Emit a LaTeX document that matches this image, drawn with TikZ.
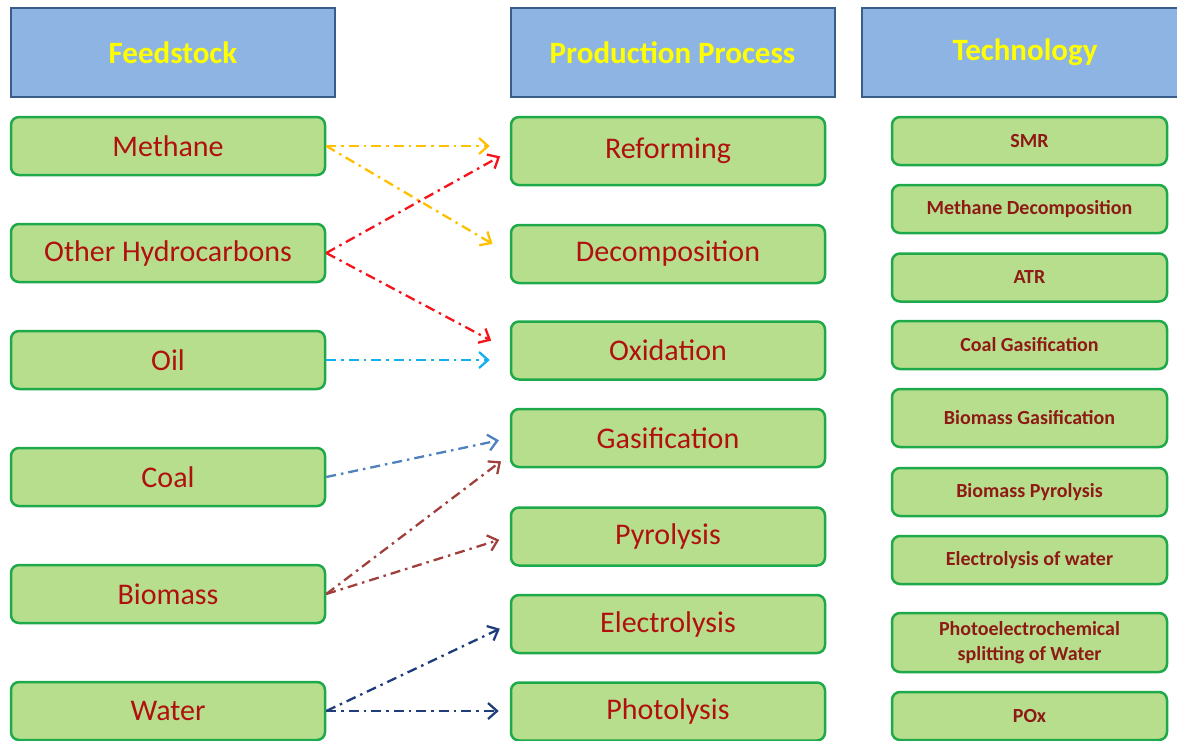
\documentclass[tikz,border=0pt]{standalone}
\usepackage{fontspec}
\setmainfont{Carlito}
\usetikzlibrary{arrows.meta}
\definecolor{headfill}{HTML}{8DB4E2}
\definecolor{headline}{HTML}{385D8A}
\definecolor{headtext}{HTML}{FFFF00}
\definecolor{boxfill}{HTML}{B7DE8D}
\definecolor{boxline}{HTML}{1EAA4B}
\definecolor{boxtext}{HTML}{B0110F}
\definecolor{techtext}{HTML}{8E1A16}
\definecolor{arrmeth}{HTML}{FFC000}
\definecolor{arrhc}{HTML}{F5141A}
\definecolor{arroil}{HTML}{12B0F0}
\definecolor{arrcoal}{HTML}{4F81BD}
\definecolor{arrbio}{HTML}{A0403D}
\definecolor{arrwater}{HTML}{1F3D7A}
\tikzset{
  header/.style={draw=headline, fill=headfill, line width=2pt,
    minimum width=324pt, minimum height=89pt, inner sep=0pt,
    text=headtext, font=\fontsize{31}{36}\selectfont\bfseries},
  feedbox/.style={draw=boxline, fill=boxfill, line width=2.5pt,
    rounded corners=8pt, minimum width=314pt, minimum height=58pt,
    inner sep=0pt, text=boxtext, font=\fontsize{30}{34}\selectfont},
  techbox/.style={draw=boxline, fill=boxfill, line width=2.5pt,
    rounded corners=8pt, minimum width=275pt, minimum height=48pt,
    inner sep=0pt, align=center, text=techtext,
    font=\fontsize{20}{25}\selectfont\bfseries},
  flow/.style={line width=2.3pt,
    dash pattern=on 10pt off 5pt on 2.5pt off 5pt,
    -{Straight Barb[length=9pt,width=16pt]}}
}
\begin{document}
\begin{tikzpicture}[x=1pt,y=-1pt]
  \useasboundingbox (0,0) rectangle (1177,740);
  % column headers
  \node[header] (hfeed) at (173,52.5) {Feedstock};
  \node[header] (hproc) at (672.5,52.5) {Production Process};
  \node[header,minimum width=326pt] (htech) at (1025,52.5) {Technology};
  % feedstock
  \node[feedbox] (meth) at (168,146) {Methane};
  \node[feedbox] (ohc) at (168,253) {Other Hydrocarbons};
  \node[feedbox] (oil) at (168,360) {Oil};
  \node[feedbox] (coal) at (168,477) {Coal};
  \node[feedbox] (biom) at (168,594) {Biomass};
  \node[feedbox] (water) at (168,711) {Water};
  % production process
  \node[feedbox,minimum height=68pt] (refo) at (668,151) {Reforming};
  \node[feedbox] (deco) at (668,254) {Decomposition};
  \node[feedbox] (oxid) at (668,350.5) {Oxidation};
  \node[feedbox] (gasi) at (668,438) {Gasification};
  \node[feedbox] (pyro) at (668,536.5) {Pyrolysis};
  \node[feedbox] (elec) at (668,624) {Electrolysis};
  \node[feedbox] (phot) at (668,711.5) {Photolysis};
  % technology
  \node[techbox] (smr) at (1029.5,141) {SMR};
  \node[techbox] (mdec) at (1029.5,209) {Methane Decomposition};
  \node[techbox] (atr) at (1029.5,277.5) {ATR};
  \node[techbox] (cgas) at (1029.5,345) {Coal Gasification};
  \node[techbox,minimum height=58pt] (bgas) at (1029.5,418) {Biomass Gasification};
  \node[techbox] (bpyr) at (1029.5,492) {Biomass Pyrolysis};
  \node[techbox] (elyw) at (1029.5,560) {Electrolysis of water};
  \node[techbox,minimum height=59pt] (pec) at (1029.5,642.5)
    {Photoelectrochemical\\splitting of Water};
  \node[techbox] (pox) at (1029.5,716) {POx};
  % feedstock to process
  \draw[flow,arrmeth,shorten >=20pt] (meth.east) -- (meth.east -| refo.west);
  \draw[flow,arrmeth,shorten >=20pt] (meth.east) -- (deco.west);
  \draw[flow,arrhc,shorten >=11pt] (ohc.east) -- (refo.west);
  \draw[flow,arrhc,shorten >=21pt] (ohc.east) -- (oxid.west);
  \draw[flow,arroil,shorten >=20pt] (oil.east) -- (oil.east -| oxid.west);
  \draw[flow,arrcoal,shorten >=11pt] (coal.east) -- (gasi.west);
  \draw[flow,arrbio,shorten >=11pt] (biom.east) -- (gasi.186);
  \draw[flow,arrbio,shorten >=11pt] (biom.east) -- (pyro.west);
  \draw[flow,arrwater,shorten >=11pt] (water.east) -- (elec.west);
  \draw[flow,arrwater,shorten >=11pt] (water.east) -- (water.east -| phot.west);
\end{tikzpicture}
\end{document}
